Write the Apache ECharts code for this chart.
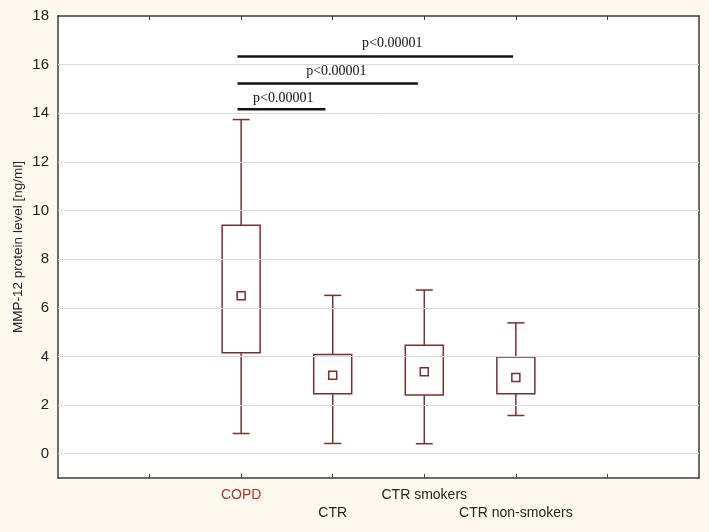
<!DOCTYPE html>
<html>
<head>
<meta charset="utf-8">
<script src="https://cdn.jsdelivr.net/npm/echarts@6/dist/echarts.min.js"></script>
<style>
  html, body { margin: 0; padding: 0; background: #fdf9ef; }
  #chart { width: 709px; height: 532px; }
</style>
</head>
<body>
<div id="chart"></div>
<script>
// 分组名称和在x轴上的位置
const groups = ['COPD', 'CTR', 'CTR smokers', 'CTR non-smokers']
const groupX = [2, 3, 4, 5]
// 每组: 下须, 箱下沿, 均值, 箱上沿, 上须
const whiskerLow = [0.83, 0.42, 0.41, 1.57]
const boxLow = [4.15, 2.46, 2.41, 2.46]
const means = [6.5, 3.23, 3.37, 3.13]
const boxHigh = [9.39, 4.08, 4.46, 3.98]
const whiskerHigh = [13.74, 6.51, 6.73, 5.38]

// 显著性标注: 起点, 终点, 高度, 文字位置
const sigFrom = [1.96, 1.96, 1.96]
const sigTo = [2.92, 3.93, 4.97]
const sigY = [14.17, 15.22, 16.33]
const sigTextX = [2.46, 3.04, 3.65]
const sigTextY = [14.6, 15.72, 16.88]
const sigText = ['p<0.00001', 'p<0.00001', 'p<0.00001']

const yLabels = [0, 2, 4, 6, 8, 10, 12, 14, 16, 18]
const gridLines = [0, 2, 4, 6, 8, 10, 12, 14, 16]
const xTicks = [1, 2, 3, 4, 5, 6]
// 标签错行显示: 第一行 COPD / CTR smokers, 第二行 CTR / CTR non-smokers
const labelRow1 = [2, 4]
const labelRow2 = [3, 5]

const boxColor = '#7a2e2e'

const chart = echarts.init(document.getElementById('chart'))

const boxData = groups.map((g, i) => [groupX[i], whiskerLow[i], boxLow[i], means[i], boxHigh[i], whiskerHigh[i]])
const sigData = sigFrom.map((f, i) => [f, sigTo[i], sigY[i], sigTextX[i], sigTextY[i], i])

function renderBox(params, api) {
  const x = api.value(0)
  const lo = api.coord([x, api.value(1)])
  const q1 = api.coord([x, api.value(2)])
  const m = api.coord([x, api.value(3)])
  const q3 = api.coord([x, api.value(4)])
  const hi = api.coord([x, api.value(5)])
  const bw = 38, cw = 17, ms = 8
  const line = { stroke: boxColor, lineWidth: 1.5 }
  return {
    type: 'group',
    children: [
      { type: 'line', shape: { x1: hi[0], y1: hi[1], x2: q3[0], y2: q3[1] }, style: line },
      { type: 'line', shape: { x1: q1[0], y1: q1[1], x2: lo[0], y2: lo[1] }, style: line },
      { type: 'line', shape: { x1: hi[0] - cw / 2, y1: hi[1], x2: hi[0] + cw / 2, y2: hi[1] }, style: line },
      { type: 'line', shape: { x1: lo[0] - cw / 2, y1: lo[1], x2: lo[0] + cw / 2, y2: lo[1] }, style: line },
      { type: 'rect', shape: { x: q3[0] - bw / 2, y: q3[1], width: bw, height: q1[1] - q3[1] },
        style: { fill: '#fff', stroke: boxColor, lineWidth: 1.5 } },
      { type: 'rect', shape: { x: m[0] - ms / 2, y: m[1] - ms / 2, width: ms, height: ms },
        style: { fill: '#fff', stroke: boxColor, lineWidth: 1.5 } }
    ]
  }
}

function renderSig(params, api) {
  const a = api.coord([api.value(0), api.value(2)])
  const b = api.coord([api.value(1), api.value(2)])
  const t = api.coord([api.value(3), api.value(4)])
  return {
    type: 'group',
    children: [
      { type: 'line', shape: { x1: a[0], y1: a[1], x2: b[0], y2: b[1] }, style: { stroke: '#111', lineWidth: 2.5 } },
      { type: 'text', x: t[0], y: t[1],
        style: { text: sigText[api.value(5)], fill: '#111', font: '14px "Liberation Serif"', align: 'center', verticalAlign: 'middle' } }
    ]
  }
}

const frameLine = { show: true, onZero: false, lineStyle: { color: '#3a3a3a', width: 1.5 } }
const groupLabel = function (v) {
  const i = groupX.indexOf(v)
  return i === 0 ? '{r|' + groups[i] + '}' : '{n|' + groups[i] + '}'
}
const labelRich = {
  r: { color: '#b3302c', fontSize: 14, fontFamily: 'Liberation Sans' },
  n: { color: '#222', fontSize: 14, fontFamily: 'Liberation Sans' }
}

const option = {
  backgroundColor: '#fdf9ef',
  animation: false,
  grid: { left: 58, right: 10, top: 16, bottom: 54, show: true, backgroundColor: '#fff', borderWidth: 0, outerBoundsMode: 'none' },
  xAxis: [
    {
      type: 'value', min: 0, max: 7, interval: 1,
      axisLine: frameLine,
      axisTick: { show: true, inside: true, length: 4, customValues: xTicks, lineStyle: { color: '#3a3a3a' } },
      splitLine: { show: false },
      axisLabel: { customValues: labelRow1, margin: 10, hideOverlap: false, formatter: groupLabel, rich: labelRich }
    },
    {
      // 第二行标签
      type: 'value', position: 'bottom', min: 0, max: 7, interval: 1,
      axisLine: { show: false },
      axisTick: { show: false },
      splitLine: { show: false },
      axisLabel: { customValues: labelRow2, margin: 28, hideOverlap: false, formatter: groupLabel, rich: labelRich }
    },
    {
      type: 'value', position: 'top', min: 0, max: 7, interval: 1,
      axisLine: frameLine,
      axisTick: { show: true, inside: true, length: 4, customValues: xTicks, lineStyle: { color: '#3a3a3a' } },
      axisLabel: { show: false },
      splitLine: { show: false }
    }
  ],
  yAxis: [
    {
      type: 'value', min: -1, max: 18, interval: 1,
      name: 'MMP-12 protein level [ng/ml]',
      nameLocation: 'middle',
      nameGap: 33,
      nameMoveOverlap: false,
      nameTextStyle: { color: '#222', fontSize: 13.5, fontFamily: 'Liberation Sans' },
      axisLine: frameLine,
      axisTick: { show: true, inside: true, length: 4, customValues: gridLines, lineStyle: { color: '#3a3a3a' } },
      axisLabel: { customValues: yLabels, color: '#222', fontSize: 15, fontFamily: 'Liberation Sans', margin: 9 },
      splitLine: { show: false }
    },
    {
      type: 'value', position: 'right', min: -1, max: 18, interval: 1,
      axisLine: frameLine,
      axisTick: { show: true, inside: true, length: 4, customValues: gridLines, lineStyle: { color: '#3a3a3a' } },
      axisLabel: { show: false },
      splitLine: { show: false }
    }
  ],
  series: [
    {
      // 网格线
      type: 'line', data: [], z: 1, silent: true,
      markLine: {
        silent: true, symbol: 'none', animation: false,
        label: { show: false },
        lineStyle: { color: '#d9d9d9', width: 1, type: 'solid' },
        data: gridLines.map(v => ({ yAxis: v }))
      }
    },
    { type: 'custom', z: 3, data: boxData, renderItem: renderBox, silent: true },
    { type: 'custom', z: 4, data: sigData, renderItem: renderSig, silent: true }
  ]
}
chart.setOption(option)
</script>
</body>
</html>
